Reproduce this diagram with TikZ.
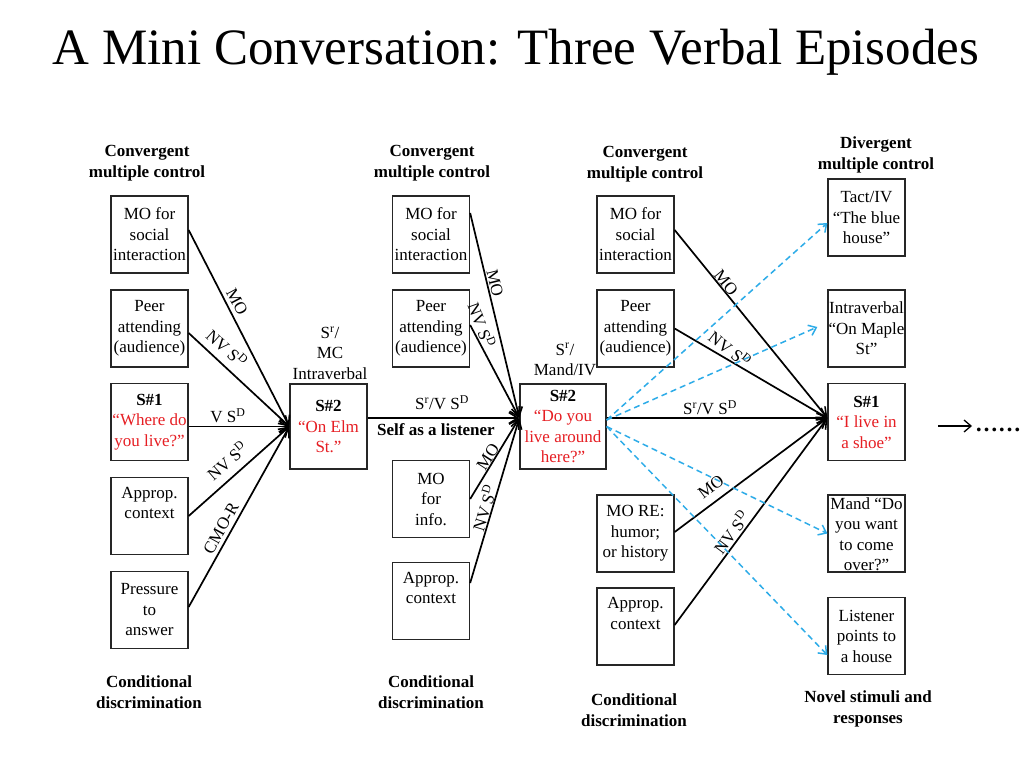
\documentclass[tikz,border=0pt]{standalone}
\usepackage{fontspec}
\setmainfont{Liberation Serif}
\usetikzlibrary{arrows.meta}
\definecolor{redtxt}{RGB}{230,30,35}
\definecolor{bluearr}{RGB}{45,172,232}
\newcommand\sdx{S\textsuperscript{D}}
\newcommand\srx{S\textsuperscript{r}}
\newcommand\rtext[1]{\textcolor{redtxt}{#1}}
\begin{document}
\begin{tikzpicture}[x=1pt,y=-1pt,
  font=\fontsize{17}{20.5}\selectfont,
  box/.style={draw=black!85, line width=1.3pt, minimum width=77pt, minimum height=77pt, inner sep=0pt, align=center},
  lab/.style={inner sep=0pt},
  hdr/.style={inner sep=0pt, align=center, font=\fontsize{17}{20.5}\selectfont\bfseries},
  arr/.style={line width=1.7pt, -{Straight Barb[length=9pt,width=11pt,line width=1.6pt]}},
  blu/.style={draw=bluearr, line width=1.5pt, dash pattern=on 6pt off 4pt, -{Straight Barb[length=7pt,width=11pt,line width=1.5pt]}}
]
\fill[white] (0,0) rectangle (1024,768);
\useasboundingbox (0,0) rectangle (1024,768);

% title
\node[lab, font=\fontsize{51}{60}\selectfont] (title) at (516,52) {A Mini Conversation: Three Verbal Episodes};

% headers
\node[hdr] (h1) at (147,163) {Convergent\\ multiple control};
\node[hdr] (h2) at (432,163) {Convergent\\ multiple control};
\node[hdr] (h3) at (645,164) {Convergent\\ multiple control};
\node[hdr] (h4) at (876,155) {Divergent\\ multiple control};
% footers
\node[hdr] (f1) at (149,692) {Conditional\\ discrimination};
\node[hdr] (f2) at (431,692) {Conditional\\ discrimination};
\node[hdr] (f3) at (634,710) {Conditional\\ discrimination};
\node[hdr] (f4) at (868,709) {Novel stimuli and\\ responses};

% column 1
\node[box] (A1) at (149.5,234.5) {MO for\\ social\\ interaction};
\node[box] (A2) at (149.5,328.5) {Peer\\ attending\\ (audience)};
\node[box] (A3) at (149.5,422) {\textbf{S\#1}\\ \rtext{“Where do}\\ \rtext{you live?”}};
\node[box] (A4) at (149.5,516) {Approp.\\ context\\ \strut};
\node[box] (A5) at (149.5,610) {Pressure\\ to\\ answer};

% S#2 first
\node[box, minimum height=85pt] (B) at (328.5,426.5) {\textbf{S\#2}\\ \rtext{“On Elm}\\ \rtext{St.”}};
\node[lab, align=center] (L1) at (330,353) {\srx/\\ MC\\ Intraverbal};

% column 2
\node[box] (C1) at (431,234.5) {MO for\\ social\\ interaction};
\node[box] (C2) at (431,328.5) {Peer\\ attending\\ (audience)};
\node[box] (C3) at (431,499) {MO\\ for\\ info.};
\node[box] (C4) at (431,601) {Approp.\\ context\\ \strut};

% S#2 second
\node[box, minimum width=86pt, minimum height=85pt] (D) at (563,426.5) {\textbf{S\#2}\\ \rtext{“Do you}\\ \rtext{live around}\\ \rtext{here?”}};
\node[lab, align=center] (L2) at (565,359.5) {\srx/\\ Mand/IV};

% column 3
\node[box] (E1) at (635.5,234.5) {MO for\\ social\\ interaction};
\node[box] (E2) at (635.5,328.5) {Peer\\ attending\\ (audience)};
\node[box] (E3) at (635.5,533.5) {MO RE:\\ humor;\\ or history};
\node[box] (E4) at (635.5,626.5) {Approp.\\ context\\ \strut};

% column 4
\node[box] (F1) at (866.5,217.5) {Tact/IV\\ “The blue\\ house”};
\node[box] (F2) at (866.5,328.5) {Intraverbal\\ “On Maple\\ St”};
\node[box] (F3) at (866.5,422) {\textbf{S\#1}\\ \rtext{“I live in}\\ \rtext{a shoe”}};
\node[box] (F4) at (866.5,533.5) {};
\node[lab, align=center] (F4t) at (866.5,534) {Mand “Do\\ you want\\ to come\\ over?”};
\node[box] (F5) at (866.5,636) {Listener\\ points to\\ a house};

% connectors into first S#2
\draw[arr] ([yshift=4.5pt]A1.east) -- (B.west);
\draw[arr] ([yshift=-4.5pt]A2.east) -- (B.west);
\draw[arr] ([yshift=-4.5pt]A3.east) -- (B.west);
\draw[arr] (A4.east) -- (B.west);
\draw[arr] ([yshift=3pt]A5.east) -- (B.west);

% connectors into second S#2
\draw[arr] ([yshift=21.5pt]C1.east) -- ([yshift=8.5pt]D.west);
\draw[arr] ([yshift=3.5pt]C2.east) -- ([yshift=8.5pt]D.west);
\draw[arr] ([yshift=8.5pt]B.east) -- ([yshift=8.5pt]D.west);
\draw[arr] (C3.east) -- ([yshift=8.5pt]D.west);
\draw[arr] ([yshift=18pt]C4.east) -- ([yshift=8.5pt]D.west);

% connectors into last S#1
\draw[arr] ([yshift=4.5pt]E1.east) -- ([yshift=4pt]F3.west);
\draw[arr] (E2.east) -- ([yshift=4pt]F3.west);
\draw[arr] ([yshift=8.5pt]D.east) -- ([yshift=4pt]F3.west);
\draw[arr] ([yshift=1.5pt]E3.east) -- ([yshift=4pt]F3.west);
\draw[arr] ([yshift=1.5pt]E4.east) -- ([yshift=4pt]F3.west);

% divergent dashed arrows
\draw[blu] ([yshift=6.5pt]D.east) -- ([yshift=-5.5pt]F1.west);
\draw[blu] ([yshift=6.5pt]D.east) -- ([xshift=-10pt,yshift=1.5pt]F2.west);
\draw[blu] (D.east) -- (F4.west);
\draw[blu] (D.east) -- ([yshift=-19pt]F5.west);

% continuation
\coordinate (c1) at (938,426);
\coordinate (c2) at (972,426);
\draw[line width=1.3pt, -{Straight Barb[length=7pt,width=12pt,line width=1.3pt]}] (c1) -- (c2);
\node[lab, anchor=base west, font=\fontsize{23}{24}\selectfont\bfseries] (dots) at (975,431) {……};

% labels on connectors, column 1
\node[lab, rotate=-62] (l1) at (237,302) {MO};
\node[lab, rotate=-42] (l2) at (227,348) {NV \sdx};
\node[lab] (l3) at (228,416) {V \sdx};
\node[lab, rotate=41] (l4) at (227,461) {NV \sdx};
\node[lab, rotate=61] (l5) at (221,528) {CMO-R};

% column 2
\node[lab, rotate=-76] (l6) at (495,283) {MO};
\node[lab, rotate=-70] (l7) at (482,325) {NV \sdx};
\node[lab] (l8) at (442,403) {\srx/V \sdx};
\node[lab, font=\fontsize{17}{20.5}\selectfont\bfseries] (l9) at (436,430) {Self as a listener};
\node[lab, rotate=57] (l10) at (488,457) {MO};
\node[lab, rotate=73] (l11) at (484,508) {NV \sdx};

% column 3
\node[lab, rotate=-51] (l12) at (726,283) {MO};
\node[lab, rotate=-38] (l13) at (730,349) {NV \sdx};
\node[lab] (l14) at (710,408) {\srx/V \sdx};
\node[lab, rotate=37] (l15) at (711,487) {MO};
\node[lab, rotate=53] (l16) at (731,532) {NV \sdx};
\end{tikzpicture}
\end{document}
